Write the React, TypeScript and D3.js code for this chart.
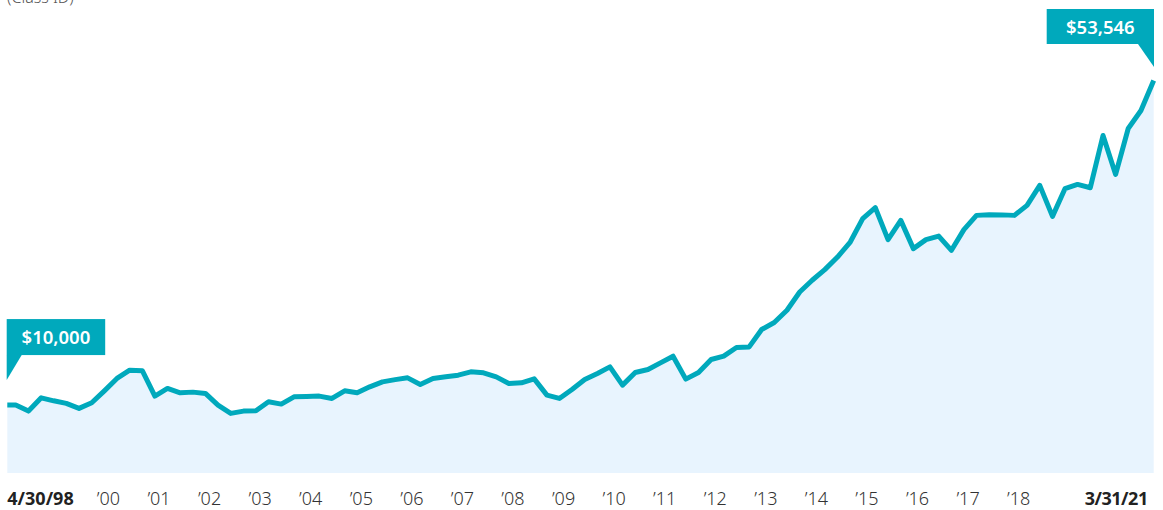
import React from "react";
import * as d3 from "d3";

const dates: string[] = [
  "1998-04-30", "1998-06-30", "1998-09-30", "1998-12-31",
  "1999-03-31", "1999-06-30", "1999-09-30", "1999-12-31",
  "2000-03-31", "2000-06-30", "2000-09-30", "2000-12-31",
  "2001-03-31", "2001-06-30", "2001-09-30", "2001-12-31",
  "2002-03-31", "2002-06-30", "2002-09-30", "2002-12-31",
  "2003-03-31", "2003-06-30", "2003-09-30", "2003-12-31",
  "2004-03-31", "2004-06-30", "2004-09-30", "2004-12-31",
  "2005-03-31", "2005-06-30", "2005-09-30", "2005-12-31",
  "2006-03-31", "2006-06-30", "2006-09-30", "2006-12-31",
  "2007-03-31", "2007-06-30", "2007-09-30", "2007-12-31",
  "2008-03-31", "2008-06-30", "2008-09-30", "2008-12-31",
  "2009-03-31", "2009-06-30", "2009-09-30", "2009-12-31",
  "2010-03-31", "2010-06-30", "2010-09-30", "2010-12-31",
  "2011-03-31", "2011-06-30", "2011-09-30", "2011-12-31",
  "2012-03-31", "2012-06-30", "2012-09-30", "2012-12-31",
  "2013-03-31", "2013-06-30", "2013-09-30", "2013-12-31",
  "2014-03-31", "2014-06-30", "2014-09-30", "2014-12-31",
  "2015-03-31", "2015-06-30", "2015-09-30", "2015-12-31",
  "2016-03-31", "2016-06-30", "2016-09-30", "2016-12-31",
  "2017-03-31", "2017-06-30", "2017-09-30", "2017-12-31",
  "2018-03-31", "2018-06-30", "2018-09-30", "2018-12-31",
  "2019-03-31", "2019-06-30", "2019-09-30", "2019-12-31",
  "2020-03-31", "2020-06-30", "2020-09-30", "2020-12-31",
];

const values: number[] = [
  10000, 10000, 9191, 10973, 10571, 10222, 9553, 10303,
  11911, 13572, 14684, 14590, 11200, 12232, 11643, 11736,
  11562, 9995, 8883, 9191, 9231, 10437, 10129, 11107,
  11160, 11200, 10892, 11911, 11643, 12447, 13116, 13411,
  13652, 12768, 13572, 13786, 14014, 14456, 14322, 13786,
  12902, 12982, 13518, 11334, 10892, 12098, 13438, 14242,
  15126, 12674, 14376, 14778, 15662, 16559, 13478, 14376,
  16117, 16559, 17725, 17805, 20137, 21075, 22723, 25174,
  26742, 28175, 29863, 31873, 35008, 36482, 32195, 34780,
  30989, 32195, 32677, 30761, 33534, 35450, 35544, 35517,
  35450, 36790, 39469, 35316, 39027, 39603, 39161, 46168,
  40943, 47106, 49518, 53546,
];

const tickDates: string[] = [
  "2000-04-30", "2001-04-30", "2002-04-30", "2003-04-30", "2004-04-30",
  "2005-04-30", "2006-04-30", "2007-04-30", "2008-04-30", "2009-04-30",
  "2010-04-30", "2011-04-30", "2012-04-30", "2013-04-30", "2014-04-30",
  "2015-04-30", "2016-04-30", "2017-04-30", "2018-04-30",
];
const tickLabels: string[] = [
  "\u201900", "\u201901", "\u201902", "\u201903", "\u201904", "\u201905", "\u201906",
  "\u201907", "\u201908", "\u201909", "\u201910", "\u201911", "\u201912", "\u201913",
  "\u201914", "\u201915", "\u201916", "\u201917", "\u201918",
];
const startLabel = "4/30/98";
const endLabel = "3/31/21";
const startValueLabel = "$10,000";
const endValueLabel = "$53,546";
const subtitle = "(Class ID)";

const W = 1163;
const H = 510;
const TEAL = "#00A9BC";
const FILL = "#E8F4FE";
const FONT = "'Noto Sans', 'Open Sans', sans-serif";

export default function App() {
  const parse = d3.timeParse("%Y-%m-%d");
  const data = dates.map((d, i) => ({ date: parse(d) as Date, value: values[i] }));

  const x = d3
    .scaleTime()
    .domain([data[0].date, data[data.length - 1].date])
    .range([7.3, 1153.7]);
  const y = d3.scaleLinear().domain([0, 53546]).range([479.6, 80.5]);
  const plotBottom = 473;

  const line = d3
    .line<{ date: Date; value: number }>()
    .x((d) => x(d.date))
    .y((d) => y(d.value));
  const area = d3
    .area<{ date: Date; value: number }>()
    .x((d) => x(d.date))
    .y0(plotBottom)
    .y1((d) => y(d.value));

  const first = data[0];
  const last = data[data.length - 1];
  const fx = x(first.date);
  const fy = y(first.value);
  const lx = x(last.date);
  const ly = y(last.value);

  const b1 = { x: fx - 0.6, y: fy - 86, w: 98.5, h: 36 };
  const b2 = { x: lx - 107, y: ly - 71.5, w: 107.3, h: 35 };

  return (
    <svg
      width={W}
      height={H}
      style={{ position: "absolute", left: 0, top: 0, display: "block" }}
    >
      <text x={7} y={3} fontFamily={FONT} fontSize={16} fontWeight={300} fill="#555">
        {subtitle}
      </text>
      <path d={area(data) || ""} fill={FILL} />
      <path
        d={line(data) || ""}
        fill="none"
        stroke={TEAL}
        strokeWidth={5}
        strokeLinejoin="round"
        strokeLinecap="butt"
      />

      <rect x={b1.x} y={b1.y} width={b1.w} height={b1.h} fill={TEAL} />
      <path
        d={`M${b1.x},${b1.y + b1.h} L${b1.x + 15},${b1.y + b1.h} L${b1.x},${b1.y + b1.h + 25} Z`}
        fill={TEAL}
      />
      <text
        x={b1.x + b1.w / 2}
        y={b1.y + 25}
        textAnchor="middle"
        fontFamily={FONT}
        fontSize={18.5}
        fontWeight={600}
        fill="#fff"
      >
        {startValueLabel}
      </text>

      <rect x={b2.x} y={b2.y} width={b2.w} height={b2.h} fill={TEAL} />
      <path
        d={`M${b2.x + b2.w - 16},${b2.y + b2.h} L${b2.x + b2.w},${b2.y + b2.h} L${b2.x + b2.w},${b2.y + b2.h + 23} Z`}
        fill={TEAL}
      />
      <text
        x={b2.x + b2.w / 2}
        y={b2.y + 25}
        textAnchor="middle"
        fontFamily={FONT}
        fontSize={18.5}
        fontWeight={600}
        fill="#fff"
      >
        {endValueLabel}
      </text>

      <text x={fx} y={505} fontFamily={FONT} fontSize={18} fontWeight={700} fill="#222">
        {startLabel}
      </text>
      {tickDates.map((d, i) => (
        <text
          key={d}
          x={x(parse(d) as Date)}
          y={505}
          textAnchor="middle"
          fontFamily={FONT}
          fontSize={18}
          fontWeight={300}
          fill="#333"
        >
          {tickLabels[i]}
        </text>
      ))}
      <text
        x={lx - 6}
        y={505}
        textAnchor="end"
        fontFamily={FONT}
        fontSize={18}
        fontWeight={700}
        fill="#222"
        letterSpacing={-0.5}
      >
        {endLabel}
      </text>
    </svg>
  );
}
